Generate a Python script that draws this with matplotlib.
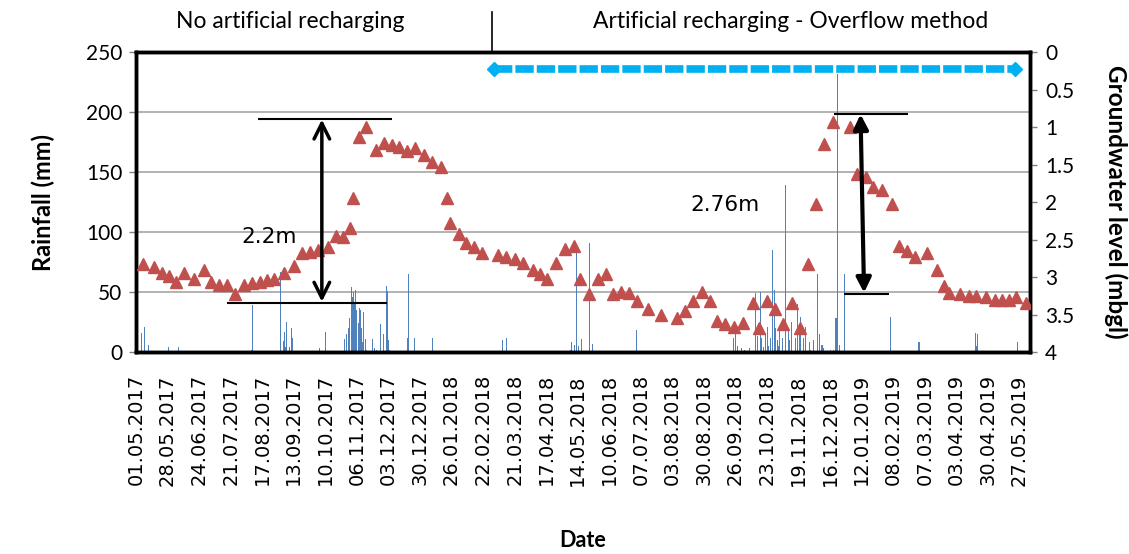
import numpy as np
import pandas as pd
import matplotlib
matplotlib.use("Agg")
import matplotlib.pyplot as plt
import matplotlib.dates as mdates

# Groundwater level readings (mbgl)
gw_dates = [
    "2017-05-07", "2017-05-16", "2017-05-23", "2017-05-29", "2017-06-04", "2017-06-11",
    "2017-06-20", "2017-06-28", "2017-07-04", "2017-07-11", "2017-07-18", "2017-07-25",
    "2017-08-01", "2017-08-08", "2017-08-15", "2017-08-21", "2017-08-27", "2017-09-05",
    "2017-09-13", "2017-09-20", "2017-09-27", "2017-10-04", "2017-10-12", "2017-10-19",
    "2017-10-25", "2017-10-31", "2017-11-03", "2017-11-08", "2017-11-14", "2017-11-22",
    "2017-11-29", "2017-12-06", "2017-12-12", "2017-12-19", "2017-12-26", "2018-01-02",
    "2018-01-09", "2018-01-17", "2018-01-22", "2018-01-25", "2018-02-01", "2018-02-07",
    "2018-02-14", "2018-02-21", "2018-03-07", "2018-03-14", "2018-03-21", "2018-03-28",
    "2018-04-06", "2018-04-12", "2018-04-18", "2018-04-25", "2018-05-03", "2018-05-11",
    "2018-05-16", "2018-05-24", "2018-05-31", "2018-06-07", "2018-06-13", "2018-06-20",
    "2018-06-27", "2018-07-04", "2018-07-13", "2018-07-24", "2018-08-07", "2018-08-14",
    "2018-08-21", "2018-08-28", "2018-09-04", "2018-09-10", "2018-09-17", "2018-09-25",
    "2018-10-02", "2018-10-11", "2018-10-16", "2018-10-23", "2018-10-30", "2018-11-06",
    "2018-11-13", "2018-11-20", "2018-11-27", "2018-12-04", "2018-12-11", "2018-12-18",
    "2019-01-02", "2019-01-08", "2019-01-16", "2019-01-22", "2019-01-29", "2019-02-07",
    "2019-02-13", "2019-02-20", "2019-02-27", "2019-03-09", "2019-03-17", "2019-03-23",
    "2019-03-28", "2019-04-06", "2019-04-14", "2019-04-20", "2019-04-28", "2019-05-06",
    "2019-05-12", "2019-05-18", "2019-05-24", "2019-06-02",
]
gw_level = [
    2.83, 2.86, 2.94, 2.99, 3.06, 2.95, 3.02, 2.91, 3.06, 3.11, 3.11, 3.22,
    3.11, 3.08, 3.06, 3.04, 3.02, 2.94, 2.85, 2.68, 2.66, 2.64, 2.60, 2.45,
    2.46, 2.34, 1.94, 1.13, 1.00, 1.31, 1.21, 1.24, 1.26, 1.32, 1.28, 1.37,
    1.46, 1.53, 1.94, 2.28, 2.42, 2.55, 2.60, 2.68, 2.71, 2.73, 2.76, 2.81,
    2.90, 2.96, 3.02, 2.81, 2.63, 2.59, 3.02, 3.22, 3.02, 2.96, 3.22, 3.20,
    3.21, 3.32, 3.43, 3.51, 3.55, 3.45, 3.32, 3.20, 3.32, 3.58, 3.62, 3.66,
    3.61, 3.35, 3.68, 3.32, 3.43, 3.62, 3.34, 3.68, 2.83, 2.03, 1.22, 0.93,
    1.00, 1.62, 1.66, 1.80, 1.84, 2.03, 2.59, 2.65, 2.73, 2.68, 2.90, 3.12,
    3.21, 3.23, 3.25, 3.25, 3.27, 3.30, 3.31, 3.30, 3.27, 3.34,
]

# Daily rainfall (mm), rainy days only
rain_dates = [
    "2017-05-06", "2017-05-08", "2017-05-12", "2017-05-29", "2017-06-06", "2017-07-04",
    "2017-08-01", "2017-08-08", "2017-08-09", "2017-09-02", "2017-09-04", "2017-09-05",
    "2017-09-06", "2017-09-07", "2017-09-09", "2017-09-11", "2017-09-12", "2017-10-05",
    "2017-10-10", "2017-10-13", "2017-10-17", "2017-10-26", "2017-10-28", "2017-10-30",
    "2017-10-31", "2017-11-01", "2017-11-02", "2017-11-03", "2017-11-04", "2017-11-05",
    "2017-11-06", "2017-11-07", "2017-11-08", "2017-11-09", "2017-11-10", "2017-11-11",
    "2017-11-12", "2017-11-13", "2017-11-14", "2017-11-19", "2017-11-21", "2017-11-23",
    "2017-11-26", "2017-11-28", "2017-11-29", "2017-12-01", "2017-12-02", "2017-12-03",
    "2017-12-04", "2017-12-14", "2017-12-19", "2017-12-20", "2017-12-25", "2018-01-10",
    "2018-02-28", "2018-03-11", "2018-03-14", "2018-04-12", "2018-05-08", "2018-05-09",
    "2018-05-11", "2018-05-13", "2018-05-15", "2018-05-17", "2018-05-24", "2018-05-27",
    "2018-07-03", "2018-09-24", "2018-09-26", "2018-09-28", "2018-10-01", "2018-10-04",
    "2018-10-08", "2018-10-13", "2018-10-15", "2018-10-17", "2018-10-18", "2018-10-20",
    "2018-10-22", "2018-10-23", "2018-10-24", "2018-10-26", "2018-10-28", "2018-10-29",
    "2018-10-30", "2018-11-01", "2018-11-02", "2018-11-03", "2018-11-05", "2018-11-08",
    "2018-11-10", "2018-11-11", "2018-11-13", "2018-11-16", "2018-11-18", "2018-11-20",
    "2018-11-21", "2018-11-23", "2018-11-25", "2018-11-28", "2018-11-29", "2018-12-02",
    "2018-12-05", "2018-12-07", "2018-12-09", "2018-12-10", "2018-12-16", "2018-12-19",
    "2018-12-21", "2018-12-22", "2018-12-24", "2018-12-28", "2019-01-14", "2019-02-06",
    "2019-03-02", "2019-04-19", "2019-04-20", "2019-04-21", "2019-05-25",
]
rain_mm = [
    16, 21, 6, 4, 4, 1,
    1, 2, 39, 67, 9, 17,
    4, 25, 4, 20, 12, 3,
    17, 1, 1, 11, 15, 20,
    28, 54, 46, 50, 40, 52,
    35, 24, 37, 35, 20, 8,
    33, 11, 2, 11, 3, 2,
    23, 1, 15, 55, 51, 10,
    2, 1, 12, 65, 12, 12,
    1, 10, 12, 1, 2, 8,
    6, 85, 5, 11, 91, 7,
    18, 12, 16, 5, 3, 2,
    3, 49, 13, 50, 12, 4,
    16, 21, 5, 12, 85, 52,
    20, 10, 5, 21, 12, 139,
    20, 10, 25, 12, 40, 20,
    29, 12, 21, 8, 2, 10,
    65, 15, 6, 3, 2, 2,
    28, 232, 6, 65, 1, 29,
    8, 16, 5, 15, 8,
]

# Artificial recharging period marker
recharge_dates = ["2018-03-03", "2019-05-23"]
recharge_level = [0.22, 0.22]

tick_dates = pd.date_range("2017-05-01", "2019-05-27", freq="27D")

narrow = ["Lato", "DejaVu Sans"]

fig = plt.figure(figsize=(11.29, 5.54), dpi=100)
ax = fig.add_axes([0.1205, 0.3646, 0.7918, 0.5415])

ax.bar(pd.to_datetime(rain_dates), rain_mm, width=0.9, color="#4F81BD", zorder=2)
ax.set_ylim(0, 250)
ax.set_yticks(np.arange(0, 251, 50))
ax.set_xlim(pd.Timestamp("2017-05-01"), pd.Timestamp("2019-06-05"))
ax.yaxis.grid(True, color="#A6A6A6", lw=1.2)
ax.set_axisbelow(True)
ax.set_xticks(tick_dates)
ax.xaxis.set_major_formatter(mdates.DateFormatter("%d.%m.%Y"))
ax.tick_params(axis="x", length=0, pad=16, labelsize=14, labelrotation=90)
ax.tick_params(axis="y", length=5, width=1, color="#808080", labelsize=15, pad=5)
for lab in ax.get_yticklabels():
    lab.set_family(narrow)
ax.set_ylabel("Rainfall (mm)", fontsize=17, fontweight="bold", family=narrow, labelpad=22)
ax.set_xlabel("Date", fontsize=15.5, fontweight="bold", family=narrow, labelpad=32)

ax2 = ax.twinx()
ax2.plot(pd.to_datetime(gw_dates), gw_level, "^", color="#C0504D", ms=9, zorder=3)
ax2.plot(pd.to_datetime(recharge_dates), recharge_level, color="#00B0F0", lw=5.5,
         ls=(0, (2.4, 0.4)), marker="D", ms=7.5, zorder=4)
ax2.set_ylim(4, 0)
ax2.set_yticks(np.arange(0, 4.01, 0.5))
ax2.set_yticklabels(["0", "0.5", "1", "1.5", "2", "2.5", "3", "3.5", "4"])
ax2.tick_params(axis="y", length=5, width=1, color="#808080", labelsize=15, pad=6)
for lab in ax2.get_yticklabels():
    lab.set_family(narrow)
ax2.set_ylabel("Groundwater level (mbgl)", fontsize=17.5, fontweight="bold", family=narrow,
               rotation=270, labelpad=38)

for a in (ax, ax2):
    for s in a.spines.values():
        s.set_color("black")
        s.set_linewidth(2.5)

# 2.2m rise without recharging
ax2.hlines(0.89, pd.Timestamp("2017-08-13"), pd.Timestamp("2017-12-06"), color="black", lw=1.5)
ax2.hlines(3.34, pd.Timestamp("2017-07-18"), pd.Timestamp("2017-12-02"), color="black", lw=1.5)
ax2.annotate("", xy=(pd.Timestamp("2017-10-07"), 0.90), xytext=(pd.Timestamp("2017-10-07"), 3.33),
             arrowprops=dict(arrowstyle="<->", lw=2.5, mutation_scale=28, color="black",
                             shrinkA=0, shrinkB=0))
ax2.text(pd.Timestamp("2017-08-23"), 2.46, "2.2m", fontsize=15.5, ha="center", va="center")

# 2.76m rise with recharging
ax2.hlines(0.82, pd.Timestamp("2018-12-19"), pd.Timestamp("2019-02-21"), color="black", lw=1.5)
ax2.hlines(3.22, pd.Timestamp("2018-12-28"), pd.Timestamp("2019-02-04"), color="black", lw=1.5)
ax2.annotate("", xy=(pd.Timestamp("2019-01-11"), 0.83), xytext=(pd.Timestamp("2019-01-14"), 3.21),
             arrowprops=dict(arrowstyle="<|-|>", lw=3, mutation_scale=22, color="black",
                             shrinkA=0, shrinkB=0))
ax2.text(pd.Timestamp("2018-09-17"), 2.04, "2.76m", fontsize=15.5, ha="center", va="center")

# period labels above the plot
fig.text(290 / 1129, 1 - 22 / 554, "No artificial recharging", fontsize=16.5, family=narrow,
         ha="center", va="center")
fig.text(791 / 1129, 1 - 22 / 554, "Artificial recharging - Overflow method", fontsize=16.5,
         family=narrow, ha="center", va="center")
fig.add_artist(plt.Line2D([492 / 1129, 492 / 1129], [1 - 12 / 554, 1 - 50 / 554],
                          color="black", lw=1.2))

fig.savefig("out.png", dpi=100)
